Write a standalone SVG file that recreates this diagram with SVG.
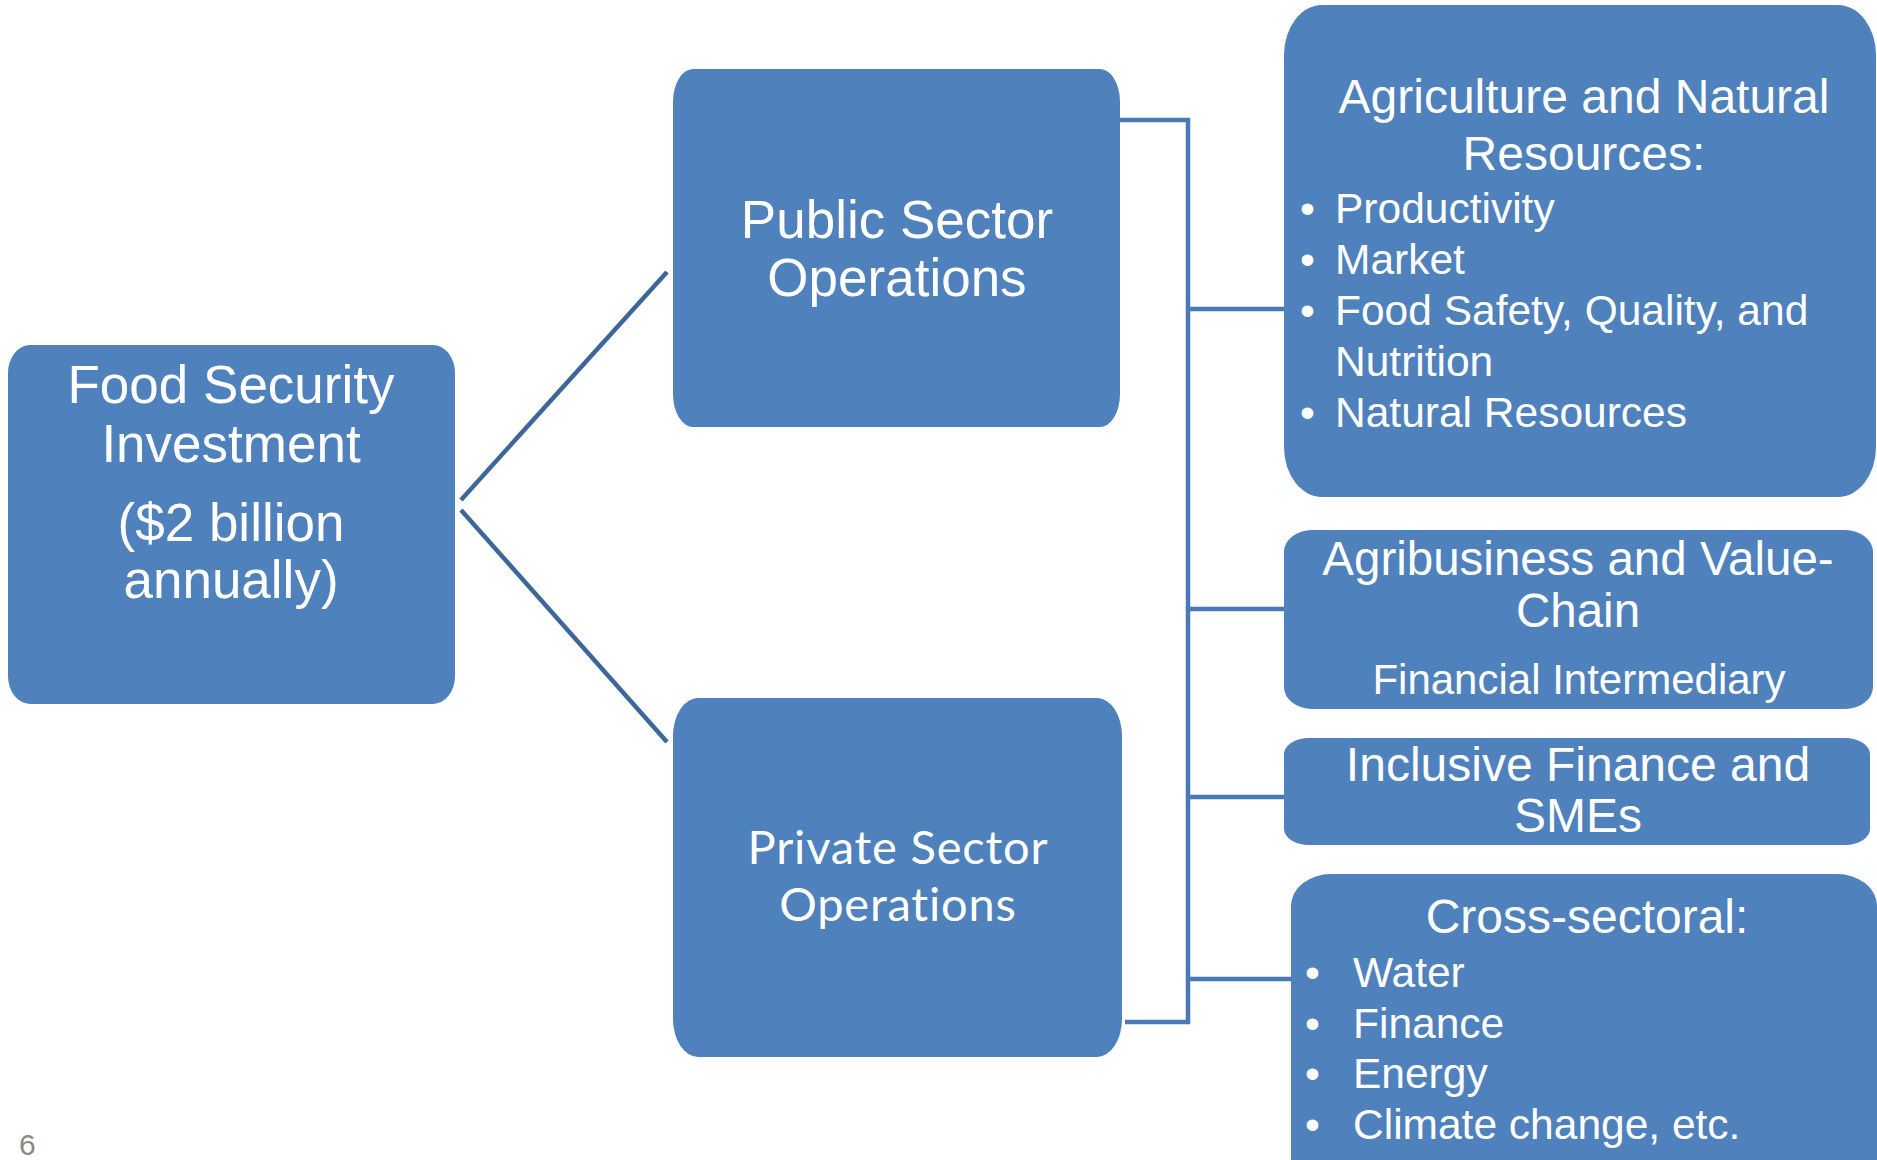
<svg xmlns="http://www.w3.org/2000/svg" width="1877" height="1160" viewBox="0 0 1877 1160">
<style>
.box{fill:#4F81BD;}
.t{font-family:"Liberation Sans",Arial,sans-serif;fill:#FFFFFF;}
.c{text-anchor:middle;}
.cal{font-family:Lato,"Open Sans",sans-serif;fill:#FFFFFF;}
.br{stroke:#4A7AB5;stroke-width:4.5;fill:none;}
.dg{stroke:#3D6799;stroke-width:4.5;fill:none;}
</style>
<rect width="1877" height="1160" fill="#FFFFFF"/>
<g id="connectors">
<line class="dg" x1="461" y1="500" x2="667" y2="272"/>
<line class="dg" x1="461" y1="510" x2="667" y2="742"/>
<polyline class="br" points="1117,120 1188,120 1188,1022 1125,1022"/>
<line class="br" x1="1188" y1="309" x2="1285" y2="309"/>
<line class="br" x1="1188" y1="609" x2="1285" y2="609"/>
<line class="br" x1="1188" y1="797" x2="1285" y2="797"/>
<line class="br" x1="1188" y1="979" x2="1291" y2="979"/>
</g>
<g id="food">
<rect class="box" x="8" y="345" width="447" height="359" rx="22" ry="28"/>
<text class="t c" font-size="53" x="231" y="403">Food Security</text>
<text class="t c" font-size="53" x="231" y="462">Investment</text>
<text class="t c" font-size="53" x="231" y="541">($2 billion</text>
<text class="t c" font-size="53" x="231" y="598">annually)</text>
</g>
<g id="public">
<rect class="box" x="673" y="69" width="447" height="358" rx="20" ry="33"/>
<text class="t c" font-size="53" x="897" y="238">Public Sector</text>
<text class="t c" font-size="53" x="897" y="296">Operations</text>
</g>
<g id="private">
<rect class="box" x="673" y="698" width="449" height="359" rx="25" ry="38"/>
<text class="cal c" font-size="47" letter-spacing="0.8" x="898" y="864">Private Sector</text>
<text class="cal c" font-size="47" letter-spacing="0.8" x="898" y="921">Operations</text>
</g>
<g id="agriculture">
<rect class="box" x="1284" y="5" width="592" height="492" rx="38" ry="50"/>
<text class="t c" font-size="48" x="1584" y="113">Agriculture and Natural</text>
<text class="t c" font-size="48" x="1584" y="170">Resources:</text>
<g class="t" font-size="42.5">
<text x="1300" y="223">•</text><text x="1335" y="223">Productivity</text>
<text x="1300" y="274">•</text><text x="1335" y="274">Market</text>
<text x="1300" y="325">•</text><text x="1335" y="325">Food Safety, Quality, and</text>
<text x="1335" y="376">Nutrition</text>
<text x="1300" y="427">•</text><text x="1335" y="427">Natural Resources</text>
</g>
</g>
<g id="agribusiness">
<rect class="box" x="1284" y="530" width="589" height="179" rx="28" ry="22"/>
<text class="t c" font-size="47.5" x="1578" y="575">Agribusiness and Value-</text>
<text class="t c" font-size="47.5" x="1578" y="627">Chain</text>
<text class="t c" font-size="42" x="1579" y="694">Financial Intermediary</text>
</g>
<g id="inclusive">
<rect class="box" x="1284" y="738" width="586" height="107" rx="25" ry="16"/>
<text class="t c" font-size="48" x="1578" y="781">Inclusive Finance and</text>
<text class="t c" font-size="48" x="1578" y="832">SMEs</text>
</g>
<g id="crosssectoral">
<rect class="box" x="1291" y="874" width="586" height="330" rx="40" ry="32"/>
<text class="t c" font-size="48" x="1587" y="933">Cross-sectoral:</text>
<g class="t" font-size="42.5">
<text x="1305" y="987">•</text><text x="1353" y="987">Water</text>
<text x="1305" y="1038">•</text><text x="1353" y="1038">Finance</text>
<text x="1305" y="1088">•</text><text x="1353" y="1088">Energy</text>
<text x="1305" y="1139">•</text><text x="1353" y="1139">Climate change, etc.</text>
</g>
</g>
<text id="pagenum" x="19" y="1155" font-family="Liberation Sans,Arial,sans-serif" font-size="30" fill="#898989">6</text>
</svg>
